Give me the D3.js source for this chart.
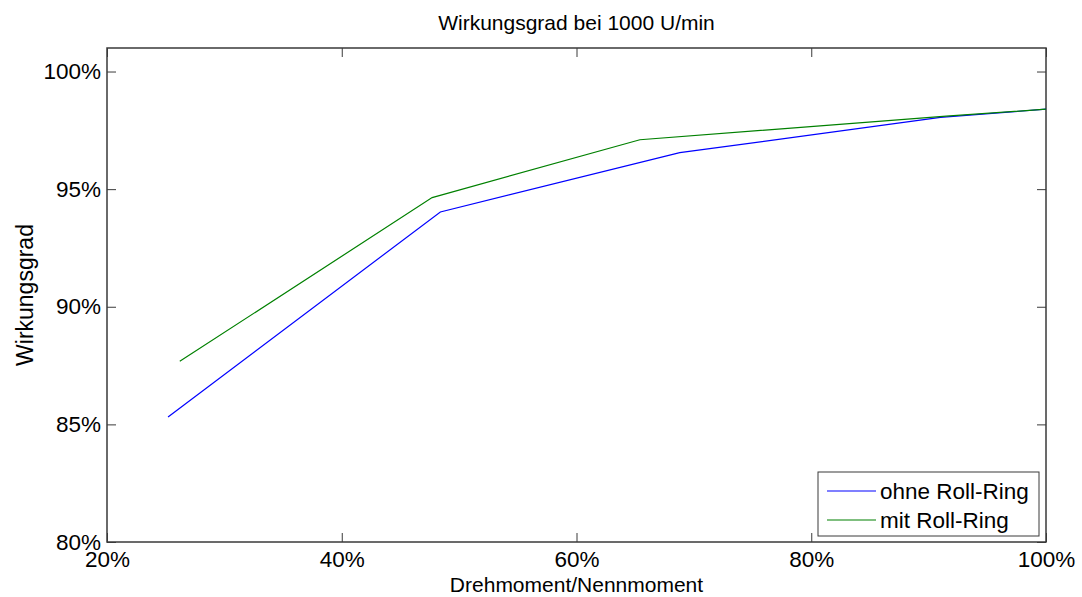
<!DOCTYPE html>
<html>
<head>
<meta charset="utf-8">
<script src="https://cdn.jsdelivr.net/npm/d3@7"></script>
<style>
  body { margin: 0; background: #fff; }
  text { font-family: "Liberation Sans", Arial, sans-serif; fill: #000; }
</style>
</head>
<body>
<div id="chart"></div>
<script>
// Data (x = torque/rated torque in %, y = efficiency in %)
const ohneX = [25.2, 48.4, 68.8, 91.0, 100];
const ohneY = [85.31, 94.03, 96.55, 98.05, 98.4];
const mitX = [26.2, 47.7, 65.4, 91.5, 100];
const mitY = [87.68, 94.64, 97.10, 98.1, 98.4];
const seriesNames = ["ohne Roll-Ring", "mit Roll-Ring"];
const xTicks = [20, 40, 60, 80, 100];
const yTicks = [80, 85, 90, 95, 100];

const W = 1082, H = 597;
const margin = { top: 48, right: 36, bottom: 55, left: 107 };
const width = W - margin.left - margin.right,
      height = H - margin.top - margin.bottom;

const svg = d3.select("#chart").append("svg")
  .attr("width", W).attr("height", H);

const g = svg.append("g")
  .attr("transform", `translate(${margin.left},${margin.top})`);

const x = d3.scaleLinear().domain([20, 100]).range([0, width]);
const y = d3.scaleLinear().domain([80, 101]).range([height, 0]);

const axisColor = "#3a3a3a";
const fmt = d => d + "%";

// Axes with inward ticks, mirrored on top and right
const axBottom = g.append("g")
  .attr("transform", `translate(0,${height})`)
  .call(d3.axisBottom(x).tickValues(xTicks).tickSizeInner(-9).tickSizeOuter(0).tickPadding(9).tickFormat(fmt));
const axLeft = g.append("g")
  .call(d3.axisLeft(y).tickValues(yTicks).tickSizeInner(-9).tickSizeOuter(0).tickPadding(6).tickFormat(fmt));
const axTop = g.append("g")
  .call(d3.axisTop(x).tickValues(xTicks).tickSizeInner(-9).tickSizeOuter(0).tickFormat(""));
const axRight = g.append("g")
  .attr("transform", `translate(${width},0)`)
  .call(d3.axisRight(y).tickValues(yTicks).tickSizeInner(-9).tickSizeOuter(0).tickFormat(""));

[axBottom, axLeft, axTop, axRight].forEach(a => {
  a.select(".domain").remove();
  a.selectAll("line").attr("stroke", axisColor);
  a.selectAll("text").style("font-size", "22.5px").attr("fill", "#000");
});
axBottom.selectAll("text").attr("dy", "0.71em");

// Plot box
g.append("rect")
  .attr("width", width).attr("height", height)
  .attr("fill", "none").attr("stroke", axisColor).attr("stroke-width", 1.5);

// Lines
const line = d3.line().x(d => x(d[0])).y(d => y(d[1]));
const ohne = ohneX.map((v, i) => [v, ohneY[i]]);
const mit = mitX.map((v, i) => [v, mitY[i]]);
const colors = ["#0000ff", "#008000"];

[ohne, mit].forEach((s, i) => {
  g.append("path")
    .datum(s)
    .attr("d", line)
    .attr("fill", "none")
    .attr("stroke", colors[i])
    .attr("stroke-width", 1.2);
});

// Title and axis labels
svg.append("text")
  .attr("x", margin.left + width / 2).attr("y", 30)
  .attr("text-anchor", "middle")
  .style("font-size", "21px")
  .text("Wirkungsgrad bei 1000 U/min");

svg.append("text")
  .attr("x", margin.left + width / 2).attr("y", 592)
  .attr("text-anchor", "middle")
  .style("font-size", "21px")
  .text("Drehmoment/Nennmoment");

svg.append("text")
  .attr("transform", `translate(33,${margin.top + height / 2}) rotate(-90)`)
  .attr("text-anchor", "middle")
  .style("font-size", "23px")
  .text("Wirkungsgrad");

// Legend
const lg = svg.append("g").attr("transform", "translate(818,472)");
lg.append("rect")
  .attr("width", 221).attr("height", 64)
  .attr("fill", "#fff").attr("stroke", axisColor).attr("stroke-width", 1);

seriesNames.forEach((name, i) => {
  const yy = 19 + i * 29;
  lg.append("line")
    .attr("x1", 9).attr("x2", 58).attr("y1", yy).attr("y2", yy)
    .attr("stroke", colors[i]).attr("stroke-width", 1.2);
  lg.append("text")
    .attr("x", 62).attr("y", yy).attr("dy", "0.35em")
    .style("font-size", "22.5px")
    .text(name);
});
</script>
</body>
</html>
